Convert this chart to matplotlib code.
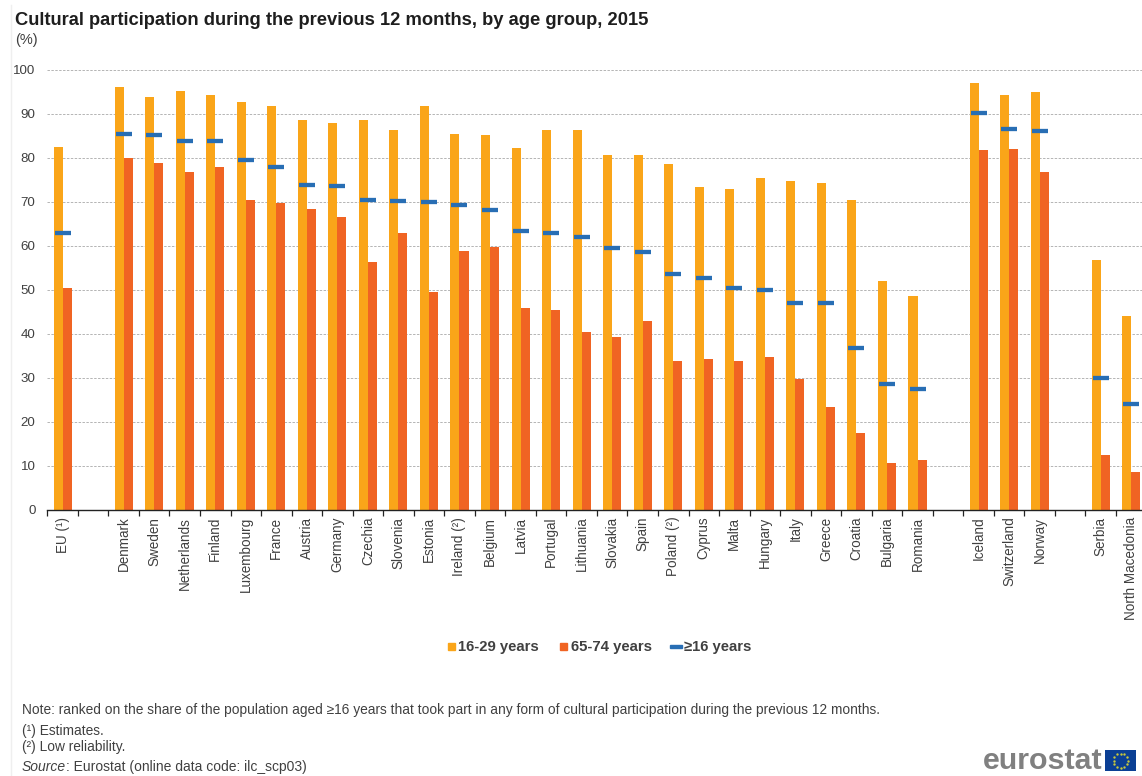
import matplotlib
matplotlib.use("Agg")
import matplotlib.pyplot as plt
import numpy as np
from matplotlib.patches import Rectangle

categories = ["EU (¹)", "", "Denmark", "Sweden", "Netherlands", "Finland", "Luxembourg", "France",
              "Austria", "Germany", "Czechia", "Slovenia", "Estonia", "Ireland (²)", "Belgium",
              "Latvia", "Portugal", "Lithuania", "Slovakia", "Spain", "Poland (²)", "Cyprus",
              "Malta", "Hungary", "Italy", "Greece", "Croatia", "Bulgaria", "Romania", "",
              "Iceland", "Switzerland", "Norway", "", "Serbia", "North Macedonia"]
young = [82.5, None, 96.0, 93.7, 95.2, 94.2, 92.6, 91.8, 88.5, 88.0, 88.5, 86.2, 91.8, 85.4, 85.1,
         82.2, 86.2, 86.4, 80.7, 80.7, 78.6, 73.4, 72.9, 75.3, 74.8, 74.2, 70.5, 52.0, 48.5, None,
         97.0, 94.2, 95.0, None, 56.8, 44.0]
older = [50.5, None, 80.0, 78.9, 76.8, 77.8, 70.5, 69.8, 68.4, 66.6, 56.2, 63.0, 49.5, 58.8, 59.8,
         45.8, 45.3, 40.5, 39.3, 43.0, 33.8, 34.3, 33.8, 34.8, 29.6, 23.4, 17.5, 10.7, 11.2, None,
         81.7, 82.0, 76.8, None, 12.4, 8.5]
total = [62.8, None, 85.5, 85.2, 83.9, 83.9, 79.5, 77.9, 73.7, 73.5, 70.3, 70.1, 69.9, 69.3, 68.2,
         63.3, 62.8, 62.0, 59.4, 58.6, 53.6, 52.6, 50.5, 50.0, 46.9, 46.9, 36.7, 28.6, 27.4, None,
         90.1, 86.5, 86.0, None, 30.0, 24.0]

W, H = 1142, 776
ORANGE = "#FAA519"
RED = "#F06423"
BLUE = "#286EB4"
GREY = "#404040"

plt.rcParams["font.family"] = ["Liberation Sans", "DejaVu Sans"]


def to_float(values):
    return np.array([np.nan if v is None else v for v in values], dtype = float)


def px_text(x, y, s, **kwargs):
    # place text using pixel coordinates measured from the top left corner
    return fig.text(x / W, 1 - y / H, s, **kwargs)


fig = plt.figure(figsize = (W / 100, H / 100), dpi = 100)
# the last category edge runs slightly past the figure border
left, right, top, bottom = 47.3, 1146.5, 69.7, 509.7
ax = fig.add_axes([left / W, 1 - bottom / H, (right - left) / W, (bottom - top) / H])

x = np.arange(len(categories))
bar_w = 0.295
ax.bar(x - bar_w / 2, to_float(young), bar_w, color = ORANGE, zorder = 2)
ax.bar(x + bar_w / 2, to_float(older), bar_w, color = RED, zorder = 2)
ax.plot(x, to_float(total), linestyle = "none", marker = "_", markersize = 11.5,
        markeredgewidth = 3.1, color = BLUE, zorder = 3)

ax.set_xlim(-0.5, len(categories) - 0.5)
ax.set_ylim(0, 100)
ax.set_yticks(np.arange(0, 101, 10))
ax.yaxis.grid(True, color = "#b4b4b4", linestyle = (0, (2.5, 1.5)), linewidth = 0.7, zorder = 0)
ax.tick_params(axis = "y", length = 0, labelsize = 9.6, labelcolor = GREY, pad = 8.5)

# category labels sit between the ticks, so the ticks mark the category edges
ax.set_xticks(np.arange(len(categories) + 1) - 0.5)
ax.set_xticklabels([])
ax.tick_params(axis = "x", length = 4, width = 0.9, color = "#222222")
for pos, name in zip(x, categories):
    ax.annotate(name, (pos, 0), xycoords = ("data", "axes fraction"), xytext = (0, -5),
                textcoords = "offset points", rotation = 90, ha = "center", va = "top",
                fontsize = 9.75, color = GREY)

for side in ["left", "right", "top"]:
    ax.spines[side].set_visible(False)
ax.spines["bottom"].set_color("#222222")
ax.spines["bottom"].set_linewidth(1.0)
ax.set_axisbelow(True)

px_text(15, 25, "Cultural participation during the previous 12 months, by age group, 2015",
        fontsize = 13.2, fontweight = "bold", color = "#1e1e1e", va = "baseline")
px_text(15, 44, "(%)", fontsize = 10.5, color = GREY, va = "baseline")

# legend drawn by hand along one row
legend_y = 646
for lx, color in [(448, ORANGE), (560, RED)]:
    fig.add_artist(Rectangle((lx / W, 1 - (legend_y + 3.5) / H), 7 / W, 7 / H,
                             transform = fig.transFigure, color = color))
fig.add_artist(Rectangle((670 / W, 1 - (legend_y + 1.5) / H), 12 / W, 3 / H,
                         transform = fig.transFigure, color = BLUE))
for lx, label in [(458, "16-29 years"), (571, "65-74 years"), (684, "≥16 years")]:
    px_text(lx, legend_y + 1, label, fontsize = 10.75, fontweight = "bold", color = GREY, va = "center")

px_text(22, 714, "Note: ranked on the share of the population aged ≥16 years that took part in any form "
                 "of cultural participation during the previous 12 months.",
        fontsize = 9.93, color = GREY, va = "baseline")
px_text(22, 735, "(¹) Estimates.", fontsize = 9.93, color = GREY, va = "baseline")
px_text(22, 751, "(²) Low reliability.", fontsize = 9.93, color = GREY, va = "baseline")
source = px_text(22, 771, "Source", fontsize = 10, color = GREY, va = "baseline", style = "italic")
source_end = source.get_window_extent(fig.canvas.get_renderer()).x1
px_text(source_end, 771, ": Eurostat (online data code: ilc_scp03)", fontsize = 10, color = GREY,
        va = "baseline")

# logo: grey wordmark and the EU flag
px_text(983, 769, "eurostat", fontsize = 21.9, fontweight = "bold", color = "#808080", va = "baseline")
flag = fig.add_axes([1105 / W, 1 - 771 / H, 31 / W, 21 / H])
flag.set_xlim(0, 31)
flag.set_ylim(0, 21)
flag.set_xticks([])
flag.set_yticks([])
flag.set_facecolor("#0B3F94")
for side in flag.spines.values():
    side.set_visible(False)
star_angles = np.deg2rad(np.arange(0, 360, 30))
flag.scatter(15.5 + 7 * np.cos(star_angles), 10.5 + 7 * np.sin(star_angles), s = 3,
             color = "#C8C83C", linewidths = 0)

# faint frame line down the left edge
fig.add_artist(plt.Line2D([10.5 / W, 10.5 / W], [0, 1 - 5 / H], color = "#efefef", linewidth = 1))

fig.savefig("out.png", dpi = 100)
